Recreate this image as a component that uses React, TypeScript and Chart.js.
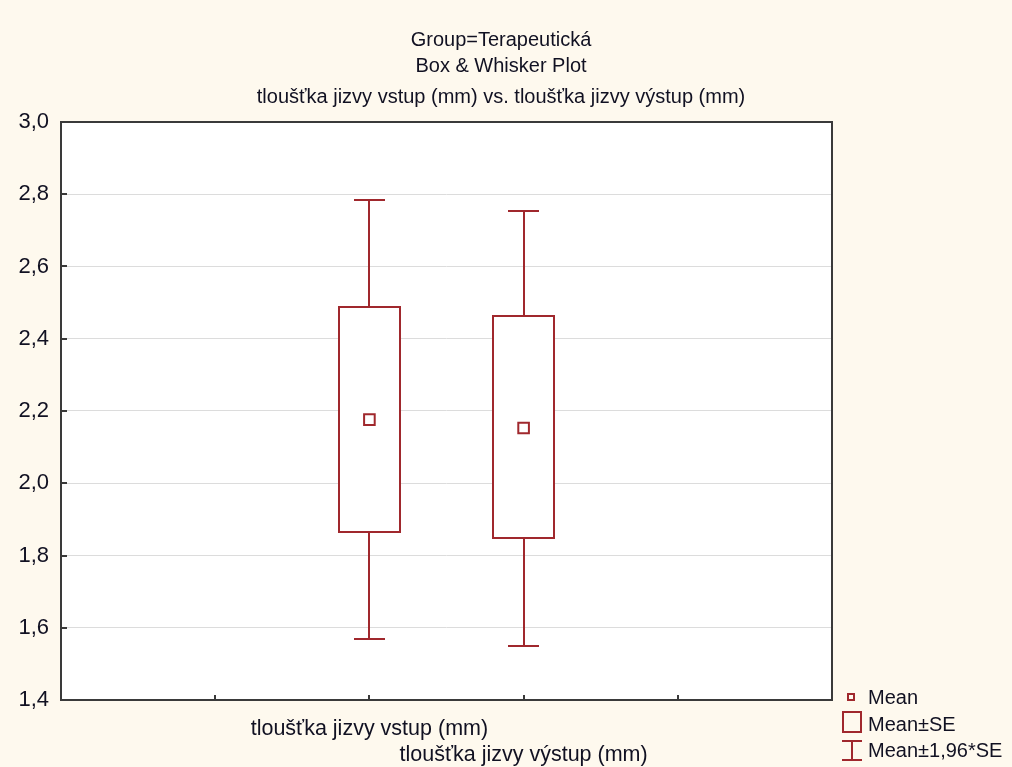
import React, { useEffect, useRef } from "react";
import { Chart, registerables } from "chart.js";

Chart.register(...registerables);

// ---- data ----
const categories: string[] = ["tloušťka jizvy vstup (mm)", "tloušťka jizvy výstup (mm)"];
const catPositions: number[] = [2, 3];
const means: number[] = [2.176, 2.153];
const seLow: number[] = [1.866, 1.848];
const seHigh: number[] = [2.487, 2.462];
const ciLow: number[] = [1.568, 1.55];
const ciHigh: number[] = [2.785, 2.755];
const yTicks: number[] = [1.4, 1.6, 1.8, 2.0, 2.2, 2.4, 2.6, 2.8, 3.0];
const titleLines: string[] = [
  "Group=Terapeutická",
  "Box & Whisker Plot",
  "tloušťka jizvy vstup (mm) vs. tloušťka jizvy výstup (mm)",
];
const legendLabels: string[] = ["Mean", "Mean±SE", "Mean±1,96*SE"];

// ---- styles ----
const BG = "#FEF9EE";
const RED = "#A0282D";
const TEXT = "#111122";
const FONT = "'Liberation Sans', Arial, sans-serif";
const BOX_W = 0.4; // in x units
const CAP_W = 0.2;

const bgPlugin = {
  id: "bg",
  beforeDraw(chart: any) {
    const { ctx, chartArea } = chart;
    ctx.save();
    ctx.fillStyle = BG;
    ctx.fillRect(0, 0, chart.width, chart.height);
    ctx.fillStyle = "#ffffff";
    ctx.fillRect(chartArea.left, chartArea.top, chartArea.right - chartArea.left, chartArea.bottom - chartArea.top);
    ctx.restore();
  },
};

const boxPlugin = {
  id: "boxes",
  beforeDatasetsDraw(chart: any) {
    const { ctx, scales } = chart;
    const xs = scales.x;
    const ys = scales.y;
    ctx.save();
    ctx.strokeStyle = RED;
    ctx.lineWidth = 2;
    catPositions.forEach((cx, i) => {
      const xc = Math.round(xs.getPixelForValue(cx));
      const bl = Math.round(xs.getPixelForValue(cx - BOX_W / 2));
      const br = Math.round(xs.getPixelForValue(cx + BOX_W / 2));
      const cl = Math.round(xs.getPixelForValue(cx - CAP_W / 2));
      const cr = Math.round(xs.getPixelForValue(cx + CAP_W / 2));
      const yTop = Math.round(ys.getPixelForValue(seHigh[i]));
      const yBot = Math.round(ys.getPixelForValue(seLow[i]));
      const wTop = Math.round(ys.getPixelForValue(ciHigh[i]));
      const wBot = Math.round(ys.getPixelForValue(ciLow[i]));
      ctx.beginPath();
      ctx.moveTo(xc, yTop);
      ctx.lineTo(xc, wTop);
      ctx.moveTo(cl, wTop);
      ctx.lineTo(cr, wTop);
      ctx.moveTo(xc, yBot);
      ctx.lineTo(xc, wBot);
      ctx.moveTo(cl, wBot);
      ctx.lineTo(cr, wBot);
      ctx.stroke();
      ctx.fillStyle = "#ffffff";
      ctx.fillRect(bl, yTop, br - bl, yBot - yTop);
      ctx.strokeRect(bl, yTop, br - bl, yBot - yTop);
    });
    ctx.restore();
  },
};

const framePlugin = {
  id: "frame",
  afterDraw(chart: any) {
    const { ctx, chartArea, scales } = chart;
    ctx.save();
    ctx.strokeStyle = "#3a3a3a";
    ctx.lineWidth = 2;
    ctx.strokeRect(chartArea.left, chartArea.top, chartArea.right - chartArea.left, chartArea.bottom - chartArea.top);
    ctx.beginPath();
    yTicks.forEach((v) => {
      const y = Math.round(scales.y.getPixelForValue(v));
      ctx.moveTo(chartArea.left, y);
      ctx.lineTo(chartArea.left + 6, y);
    });
    [1, 2, 3, 4].forEach((v) => {
      const x = Math.round(scales.x.getPixelForValue(v));
      ctx.moveTo(x, chartArea.bottom);
      ctx.lineTo(x, chartArea.bottom - 5);
    });
    ctx.stroke();
    ctx.restore();
  },
};

const titlePlugin = {
  id: "titles",
  afterDraw(chart: any) {
    const { ctx } = chart;
    ctx.save();
    ctx.fillStyle = TEXT;
    ctx.textAlign = "center";
    ctx.textBaseline = "middle";
    ctx.font = `20px ${FONT}`;
    const ys = [40, 66, 97];
    titleLines.forEach((t, i) => ctx.fillText(t, 501, ys[i]));
    ctx.restore();
  },
};

const legendPlugin = {
  id: "customLegend",
  afterDraw(chart: any) {
    const { ctx, chartArea } = chart;
    const x0 = chartArea.right;
    const b = chartArea.bottom;
    ctx.save();
    ctx.strokeStyle = RED;
    ctx.lineWidth = 2;
    // mean icon
    ctx.strokeRect(x0 + 16, b - 6, 6, 6);
    // box icon
    ctx.strokeRect(x0 + 11, b + 12, 18, 20);
    // whisker icon
    ctx.beginPath();
    ctx.moveTo(x0 + 20, b + 41);
    ctx.lineTo(x0 + 20, b + 60);
    ctx.moveTo(x0 + 10, b + 41);
    ctx.lineTo(x0 + 30, b + 41);
    ctx.moveTo(x0 + 10, b + 60);
    ctx.lineTo(x0 + 30, b + 60);
    ctx.stroke();
    ctx.fillStyle = TEXT;
    ctx.font = `20px ${FONT}`;
    ctx.textAlign = "left";
    ctx.textBaseline = "middle";
    const rows = [b - 2, b + 25, b + 51];
    legendLabels.forEach((t, i) => ctx.fillText(t, x0 + 36, rows[i]));
    ctx.restore();
  },
};

export default function App() {
  const ref = useRef<HTMLCanvasElement>(null);
  useEffect(() => {
    const chart = new Chart(ref.current as HTMLCanvasElement, {
      type: "scatter",
      data: {
        datasets: [
          {
            label: legendLabels[0],
            data: catPositions.map((x, i) => ({ x, y: means[i] })),
            pointStyle: "rect",
            pointRadius: 7.5,
            pointBorderWidth: 2,
            borderColor: RED,
            backgroundColor: "#ffffff",
          },
        ],
      },
      options: {
        responsive: false,
        animation: false,
        devicePixelRatio: 1,
        layout: { padding: { top: 122, right: 180, left: 0, bottom: 0 } },
        plugins: {
          legend: { display: false },
          tooltip: { enabled: false },
          title: { display: false },
        },
        scales: {
          x: {
            type: "linear",
            min: 0,
            max: 5,
            afterFit: (s: any) => {
              s.height = 67;
            },
            grid: { display: false },
            border: { display: false },
            ticks: {
              stepSize: 1,
              autoSkip: false,
              maxRotation: 0,
              minRotation: 0,
              padding: 9,
              color: TEXT,
              font: { family: FONT, size: 21.5, lineHeight: 1.17 },
              callback: (v: any) => {
                const idx = catPositions.indexOf(Number(v));
                if (idx < 0) return "";
                const lines: string[] = [];
                for (let k = 0; k < idx; k++) lines.push("");
                lines.push(categories[idx]);
                return lines;
              },
            },
          },
          y: {
            type: "linear",
            min: 1.4,
            max: 3.0,
            afterFit: (s: any) => {
              s.width = 61;
            },
            afterBuildTicks: (s: any) => {
              s.ticks = yTicks.map((v) => ({ value: v }));
            },
            grid: { color: "#dcdcdc", lineWidth: 1, drawTicks: false },
            border: { display: false },
            ticks: {
              padding: 12,
              color: TEXT,
              font: { family: FONT, size: 22 },
              callback: (v: any) => Number(v).toFixed(1).replace(".", ","),
            },
          },
        },
      },
      plugins: [bgPlugin, boxPlugin, framePlugin, titlePlugin, legendPlugin],
    });
    return () => chart.destroy();
  }, []);
  return (
    <div style={{ position: "absolute", left: 0, top: 0, width: 1012, height: 767, background: BG }}>
      <canvas ref={ref} width={1012} height={767} style={{ display: "block", width: 1012, height: 767 }} />
    </div>
  );
}
